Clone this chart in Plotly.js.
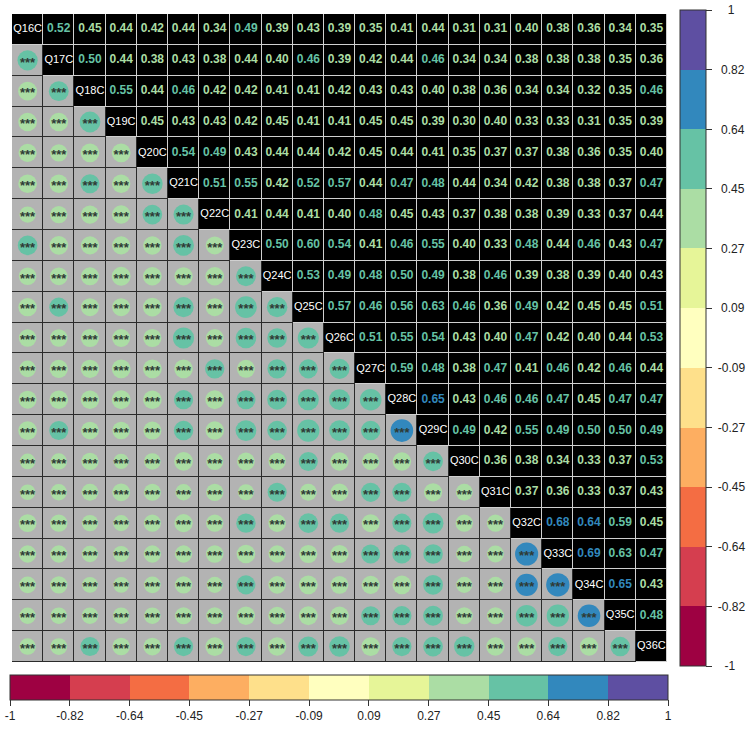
<!DOCTYPE html>
<html>
<head>
<meta charset="utf-8">
<script src="https://cdn.plot.ly/plotly-3.0.1.min.js"></script>
<style>html,body{margin:0;padding:0;background:#fff;}#chart{width:756px;height:734px;}</style>
</head>
<body>
<div id="chart"></div>
<script>
// Variable labels
const labels = ["Q16C","Q17C","Q18C","Q19C","Q20C","Q21C","Q22C","Q23C","Q24C","Q25C","Q26C",
                "Q27C","Q28C","Q29C","Q30C","Q31C","Q32C","Q33C","Q34C","Q35C","Q36C"];

// Upper triangle correlations, row by row (row i: columns i+1 .. 20)
const r_Q16C = [0.52,0.45,0.44,0.42,0.44,0.34,0.49,0.39,0.43,0.39,0.35,0.41,0.44,0.31,0.31,0.40,0.38,0.36,0.34,0.35];
const r_Q17C = [0.50,0.44,0.38,0.43,0.38,0.44,0.40,0.46,0.39,0.42,0.44,0.46,0.34,0.34,0.38,0.38,0.38,0.35,0.36];
const r_Q18C = [0.55,0.44,0.46,0.42,0.42,0.41,0.41,0.42,0.43,0.43,0.40,0.38,0.36,0.34,0.34,0.32,0.35,0.46];
const r_Q19C = [0.45,0.43,0.43,0.42,0.45,0.41,0.41,0.45,0.45,0.39,0.30,0.40,0.33,0.33,0.31,0.35,0.39];
const r_Q20C = [0.54,0.49,0.43,0.44,0.44,0.42,0.45,0.44,0.41,0.35,0.37,0.37,0.38,0.36,0.35,0.40];
const r_Q21C = [0.51,0.55,0.42,0.52,0.57,0.44,0.47,0.48,0.44,0.34,0.42,0.38,0.38,0.37,0.47];
const r_Q22C = [0.41,0.44,0.41,0.40,0.48,0.45,0.43,0.37,0.38,0.38,0.39,0.33,0.37,0.44];
const r_Q23C = [0.50,0.60,0.54,0.41,0.46,0.55,0.40,0.33,0.48,0.44,0.46,0.43,0.47];
const r_Q24C = [0.53,0.49,0.48,0.50,0.49,0.38,0.46,0.39,0.38,0.39,0.40,0.43];
const r_Q25C = [0.57,0.46,0.56,0.63,0.46,0.36,0.49,0.42,0.45,0.45,0.51];
const r_Q26C = [0.51,0.55,0.54,0.43,0.40,0.47,0.42,0.40,0.44,0.53];
const r_Q27C = [0.59,0.48,0.38,0.47,0.41,0.46,0.42,0.46,0.44];
const r_Q28C = [0.65,0.43,0.46,0.46,0.47,0.45,0.47,0.47];
const r_Q29C = [0.49,0.42,0.55,0.49,0.50,0.50,0.49];
const r_Q30C = [0.36,0.38,0.34,0.33,0.37,0.53];
const r_Q31C = [0.37,0.36,0.33,0.37,0.43];
const r_Q32C = [0.68,0.64,0.59,0.45];
const r_Q33C = [0.69,0.63,0.47];
const r_Q34C = [0.65,0.43];
const r_Q35C = [0.48];
const upperRows = [r_Q16C,r_Q17C,r_Q18C,r_Q19C,r_Q20C,r_Q21C,r_Q22C,r_Q23C,r_Q24C,r_Q25C,
                   r_Q26C,r_Q27C,r_Q28C,r_Q29C,r_Q30C,r_Q31C,r_Q32C,r_Q33C,r_Q34C,r_Q35C];

// Significance label shown in every lower cell
const sigLabel = "***";

// Colour legend: bin breaks, tick labels, palette
const breaks = [-1, -0.818, -0.636, -0.455, -0.273, -0.091, 0.091, 0.273, 0.455, 0.636, 0.818, 1];
const breakLabels = ["-1","-0.82","-0.64","-0.45","-0.27","-0.09","0.09","0.27","0.45","0.64","0.82","1"];
const palette = ["#9E0142","#D53E4F","#F46D43","#FDAE61","#FEE08B","#FFFFBF",
                 "#E6F598","#ABDDA4","#66C2A5","#3288BD","#5E4FA2"];

// ---- build ----
const n = labels.length;
const W = 756, H = 734;
const M = {l: 11, r: 88, t: 10, b: 69};
const plotW = W - M.l - M.r, plotH = H - M.t - M.b;
const cellPx = Math.min(plotW, plotH) / n;
const starShift = 3 / cellPx; // push asterisks down so they sit in the circle centre

function binColor(v) {
  for (let k = 0; k < palette.length; k++) {
    if (v < breaks[k + 1] || k === palette.length - 1) return palette[k];
  }
}
const colorscale = [];
palette.forEach((c, k) => {
  colorscale.push([(breaks[k] + 1) / 2, c]);
  colorscale.push([(breaks[k + 1] + 1) / 2, c]);
});
colorscale[0][0] = 0; colorscale[colorscale.length - 1][0] = 1;

// centred labels for the vertical legend (left-aligned text padded with no-break spaces)
const charW = {'-': 4.0, '.': 3.34};
const labW = s => s.split('').reduce((a, c) => a + (charW[c] || 6.67), 0);
const maxW = Math.max(...breakLabels.map(labW));
const vLabels = breakLabels.map(s => '\u00a0'.repeat(1 + Math.round((maxW - labW(s)) / 2 / 3.34)) + s);

// full matrix
const R = [];
for (let i = 0; i < n; i++) { R.push(new Array(n).fill(1)); }
upperRows.forEach((row, i) => row.forEach((v, k) => { const j = i + 1 + k; R[i][j] = v; R[j][i] = v; }));

// background layers
const zA = [], zB = [];
for (let i = 0; i < n; i++) {
  const a = [], b = [];
  for (let j = 0; j < n; j++) { a.push(j < i ? 0 : 1); b.push(j < i ? 0 : 1); }
  zA.push(a); zB.push(b);
}
const idx = labels.map((_, i) => i);

const upX = [], upY = [], upV = [], upT = [], upC = [];
const loX = [], loY = [], loV = [], loS = [];
for (let i = 0; i < n; i++) {
  for (let j = 0; j < n; j++) {
    if (j > i) { upX.push(j); upY.push(i); upV.push(R[i][j]); upT.push(R[i][j].toFixed(2)); upC.push(binColor(R[i][j])); }
    else if (j < i) { loX.push(j); loY.push(i); loV.push(R[i][j]); loS.push(0.9 * Math.sqrt(Math.abs(R[i][j])) * cellPx); }
  }
}

const cbCommon = {
  tickmode: 'array', tickvals: breaks,
  ticks: 'outside', ticklen: 6, tickcolor: '#333', tickwidth: 1,
  outlinewidth: 1, outlinecolor: '#333',
  tickfont: {family: 'Liberation Sans, Arial, sans-serif', size: 12, color: '#222'},
  xpad: 0, ypad: 0
};

const traces = [
  { type: 'heatmap', x: idx, y: idx, z: zA, zmin: 0, zmax: 1, showscale: false, hoverinfo: 'skip',
    colorscale: [[0,'#2b2b2b'],[0.5,'#2b2b2b'],[0.5,'#d0d0d0'],[1,'#d0d0d0']] },
  { type: 'heatmap', x: idx, y: idx, z: zB, zmin: 0, zmax: 1, showscale: false, hoverinfo: 'skip',
    xgap: 1, ygap: 1,
    colorscale: [[0,'#b3b3b3'],[0.5,'#b3b3b3'],[0.5,'#000000'],[1,'#000000']] },
  { type: 'scatter', mode: 'markers', x: loX, y: loY, hoverinfo: 'skip',
    marker: {size: loS, color: loV, colorscale: colorscale, cmin: -1, cmax: 1, line: {width: 0}, opacity: 1,
      showscale: true,
      colorbar: Object.assign({}, cbCommon, {
        ticktext: vLabels,
        orientation: 'v', thickness: 26, thicknessmode: 'pixels', len: 656, lenmode: 'pixels',
        x: (681 - M.l) / plotW, xanchor: 'left', y: 0.5, yanchor: 'middle'
      })
    } },
  { type: 'scatter', mode: 'text', x: loX, y: loY, yaxis: 'y2', text: loX.map(() => sigLabel),
    textposition: 'middle center', hoverinfo: 'skip',
    textfont: {family: 'Liberation Sans, Arial, sans-serif', size: 13, color: '#2f3b36', weight: 'bold'} },
  { type: 'scatter', mode: 'markers+text', x: upX, y: upY, text: upT, textposition: 'middle center',
    hoverinfo: 'skip',
    textfont: {family: 'Liberation Sans, Arial, sans-serif', size: 12, color: upC, weight: 'bold'},
    marker: {size: 1, opacity: 0, color: upV, colorscale: colorscale, cmin: -1, cmax: 1,
      showscale: true,
      colorbar: Object.assign({}, cbCommon, {
        ticktext: breakLabels,
        orientation: 'h', thickness: 25, thicknessmode: 'pixels', len: 658, lenmode: 'pixels',
        x: (339 - M.l) / plotW, xanchor: 'center', y: -(678 - (M.t + plotH)) / plotH, yanchor: 'top'
      })
    } },
  { type: 'scatter', mode: 'text', x: idx, y: idx, text: labels, textposition: 'middle center',
    hoverinfo: 'skip',
    textfont: {family: 'Liberation Sans, Arial, sans-serif', size: 11, color: '#ffffff'} }
];

const layout = {
  width: W, height: H, margin: M, paper_bgcolor: '#ffffff', plot_bgcolor: '#ffffff',
  showlegend: false,
  xaxis: {range: [-0.5, n - 0.5], visible: false, fixedrange: true},
  yaxis: {range: [n - 0.5, -0.5], visible: false, fixedrange: true},
  yaxis2: {range: [n - 0.5 - starShift, -0.5 - starShift], overlaying: 'y', visible: false, fixedrange: true}
};

Plotly.newPlot('chart', traces, layout, {displayModeBar: false, staticPlot: true});
</script>
</body>
</html>
